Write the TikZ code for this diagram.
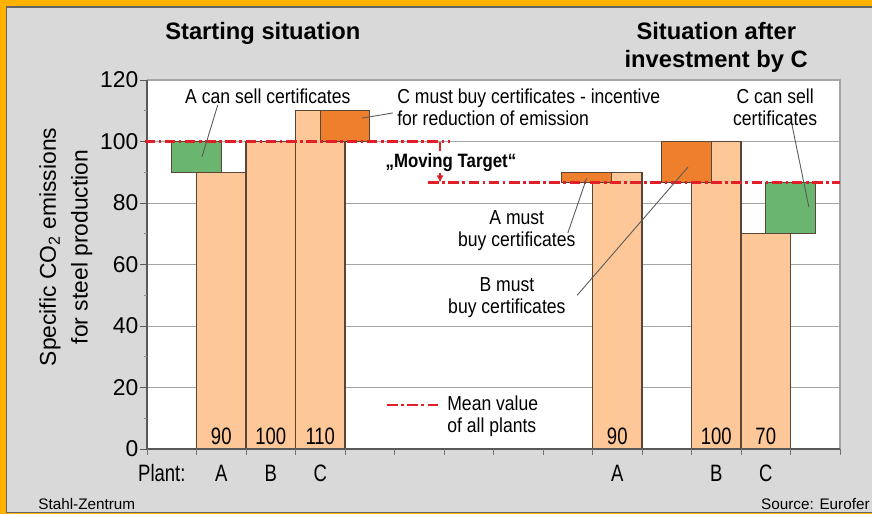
\documentclass[tikz,border=0pt]{standalone}
\usepackage{fontspec}
\setmainfont{Liberation Sans}
\newfontfamily\condfont[FakeStretch=0.87]{Liberation Sans}
\newfontfamily\narrowfont[FakeStretch=0.78]{Liberation Sans}
\usetikzlibrary{arrows.meta}
\definecolor{frameorange}{RGB}{255,178,0}
\definecolor{panelgray}{RGB}{217,217,217}
\definecolor{barpeach}{RGB}{253,199,151}
\definecolor{certgreen}{RGB}{106,181,111}
\definecolor{certorange}{RGB}{238,128,45}
\definecolor{meanred}{RGB}{226,30,38}
\definecolor{gridgray}{RGB}{165,165,165}
\definecolor{baredge}{RGB}{90,70,54}

\begin{document}
\begin{tikzpicture}
\tikzstyle{bar}=[fill=barpeach,draw=baredge,line width=0.6pt]
\tikzstyle{sellbox}=[fill=certgreen,draw=baredge,line width=0.6pt]
\tikzstyle{buybox}=[fill=certorange,draw=baredge,line width=0.6pt]
\tikzstyle{meanline}=[draw=meanred,line width=1.6pt,dash pattern=on 6pt off 2pt on 1.5pt off 2pt]
\tikzstyle{leader}=[draw=black!65,line width=0.5pt]
\tikzstyle{note}=[font=\condfont\fontsize{11.5}{12.5}\selectfont,align=center,inner sep=0pt]
\tikzstyle{value}=[font=\narrowfont\fontsize{13.5}{15}\selectfont,anchor=south,inner sep=2pt]
\tikzstyle{ticklabel}=[font=\fontsize{13}{15}\selectfont,anchor=east,inner sep=0pt]
\tikzstyle{heading}=[font=\bfseries\fontsize{13.5}{16}\selectfont,align=center]
\useasboundingbox (0,0) rectangle (17.44,10.28);
\fill[frameorange] (0,0) rectangle (17.44,10.28);
\fill[panelgray] (0.13,0.03) rectangle (17.44,10.14);
\draw[black!60,line width=0.6pt] (17.44,10.14) -- (0.13,10.14) -- (0.13,0.03) -- (17.44,0.03);
\node (srcleft) [font=\fontsize{8.7}{10}\selectfont,anchor=west,inner sep=0pt] at (0.76,0.2) {Stahl-Zentrum};
\node (srcright) [font=\fontsize{8.7}{10}\selectfont,anchor=east,inner sep=0pt] at (17.4,0.2) {Source: Eurofer};
\begin{scope}[shift={(2.94,1.30)},x=0.99cm,y=0.0615cm]
\fill[white] (0,0) rectangle (14,120);
\foreach \v in {20,40,...,100} \draw[gridgray,line width=0.5pt] (0,\v) -- (14,\v);
\draw[gridgray,line width=0.7pt] (0,120) -- (14,120) -- (14,0);
\draw[bar] (1,0) rectangle (2,90);
\draw[bar] (2,0) rectangle (3,100);
\draw[bar] (3,0) rectangle (4,110);
\draw[sellbox] (0.5,90) rectangle (1.5,100);
\draw[buybox] (3.5,100) rectangle (4.5,110);
\draw[bar] (9,0) rectangle (10,90);
\draw[bar] (11,0) rectangle (12,100);
\draw[bar] (12,0) rectangle (13,70);
\draw[buybox] (8.38,86.67) rectangle (9.38,90);
\draw[buybox] (10.4,86.67) rectangle (11.4,100);
\draw[sellbox] (12.5,70) rectangle (13.5,86.67);
\draw[black!65,line width=0.7pt] (0,120) -- (0,0) -- (14,0);
\foreach \c in {0,...,14} \draw[black!55,line width=0.5pt] (\c,0) -- (\c,-2);
\foreach \v in {10,30,...,110} \draw[black!45,line width=0.4pt] (0,\v) -- (-0.06,\v);
\foreach \v in {0,20,...,120} {
  \draw[black!65,line width=0.5pt] (0,\v) -- (-0.14,\v);
  \node (tick\v) [ticklabel] at (-0.17,\v) {\v};
}
\node (valA) [value] at (1.5,0) {90};
\node (valB) [value] at (2.5,0) {100};
\node (valC) [value] at (3.5,0) {110};
\node (valAnew) [value] at (9.5,0) {90};
\node (valBnew) [value] at (11.5,0) {100};
\node (valCnew) [value] at (12.5,0) {70};
\node (plantlbl) [font=\narrowfont\fontsize{13.5}{15}\selectfont] at (0.3,-7.8) {Plant:};
\node (plantA) [font=\narrowfont\fontsize{13.5}{15}\selectfont] at (1.5,-7.8) {A};
\node (plantB) [font=\narrowfont\fontsize{13.5}{15}\selectfont] at (2.5,-7.8) {B};
\node (plantC) [font=\narrowfont\fontsize{13.5}{15}\selectfont] at (3.5,-7.8) {C};
\node (plantAnew) [font=\narrowfont\fontsize{13.5}{15}\selectfont] at (9.5,-7.8) {A};
\node (plantBnew) [font=\narrowfont\fontsize{13.5}{15}\selectfont] at (11.5,-7.8) {B};
\node (plantCnew) [font=\narrowfont\fontsize{13.5}{15}\selectfont] at (12.5,-7.8) {C};
\coordinate (meanoldstart) at (-0.05,100);
\coordinate (meanoldend) at (6.12,100);
\coordinate (meannewstart) at (5.68,86.67);
\coordinate (meannewend) at (14,86.67);
\draw[meanline] (meanoldstart) -- (meanoldend);
\draw[meanline] (meannewstart) -- (meannewend);
\coordinate (shifttop) at (5.92,100);
\coordinate (shiftbot) at (5.92,86.67);
\draw[meanred,line width=1pt,-{Latex[length=4pt,width=4pt]}] (shifttop) -- (shiftbot);
\node (movetarget) [font=\condfont\bfseries\fontsize{11}{13}\selectfont,fill=white,inner sep=1pt] at (6.14,93.3) {„Moving Target“};
\coordinate (legstart) at (4.85,14.3);
\coordinate (legend) at (5.92,14.3);
\draw[meanline] (legstart) -- (legend);
\node (meanlbl) [note,align=left,anchor=west] at (6.06,10.7) {Mean value\\of all plants};
\node (asell) [note] at (2.44,114.8) {A can sell certificates};
\node (cbuy) [note,align=left,anchor=west] at (5.05,111) {C must buy certificates - incentive\\for reduction of emission};
\node (amust) [note] at (7.47,70.9) {A must\\buy certificates};
\node (bmust) [note] at (7.27,49.1) {B must\\buy certificates};
\node (csell) [note] at (12.69,111.2) {C can sell\\certificates};
\coordinate (asellfrom) at (1.43,111.9);
\coordinate (asellto) at (1.11,95);
\coordinate (cbuyfrom) at (4.97,109.3);
\coordinate (cbuyto) at (4.34,107.6);
\coordinate (amustfrom) at (8.5,70.2);
\coordinate (amustto) at (8.88,88);
\coordinate (bmustfrom) at (8.69,50);
\coordinate (bmustto) at (10.93,91.7);
\coordinate (csellfrom) at (13.03,105.4);
\coordinate (csellto) at (13.37,78.7);
\draw[leader] (asellfrom) -- (asellto);
\draw[leader] (cbuyfrom) -- (cbuyto);
\draw[leader] (amustfrom) -- (amustto);
\draw[leader] (bmustfrom) -- (bmustto);
\draw[leader] (csellfrom) -- (csellto);
\node (titlestart) [heading] at (2.34,135.3) {Starting situation};
\node (titleafter) [heading] at (11.5,130.7) {Situation after\\investment by C};
\node (ylabel) [rotate=90,align=center,font=\fontsize{13}{18}\selectfont] at (-1.64,65.7) {Specific CO\textsubscript{2} emissions\\for steel production};
\end{scope}
\end{tikzpicture}
\end{document}
